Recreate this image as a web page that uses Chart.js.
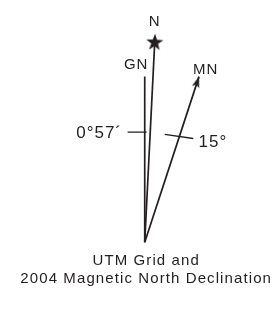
<!DOCTYPE html>
<html>
<head>
<meta charset="utf-8">
<script src="https://cdn.jsdelivr.net/npm/chart.js@4/dist/chart.umd.min.js"></script>
<style>
  html, body { margin: 0; padding: 0; background: #fff; }
  #wrap { width: 279px; height: 317px; }
</style>
</head>
<body>
<div id="wrap"><canvas id="chart" width="279" height="317"></canvas></div>
<script>
// diagram space: x to the right, y downward, same units as the picture
const originX = 145;
const originY = 246;

// the three north lines: grid, true, magnetic
const lineNames = ['GN', 'N', 'MN'];
const lineEndX = [145, 155.5, 202];
const lineEndY = [73, 37, 73];
const lineMarker = ['none', 'star', 'arrow'];

// angle tick marks
const tickStartX = [127, 166];
const tickStartY = [131, 133.3];
const tickEndX = [147, 196];
const tickEndY = [131, 137.6];

// labels
const labelText = ['N', 'GN', 'MN', '0°57´', '15°'];
const labelX = [155.5, 136, 209, 73, 201.5];
const labelY = [20.5, 65, 70, 136.7, 146.7];
const labelAlign = ['center', 'center', 'center', 'left', 'left'];
const labelSize = [15, 15, 15, 17, 17];

const captionLines = ['UTM Grid and', '2004 Magnetic North Declination'];
const captionX = 146.5;
const captionY = [270, 288];

const ink = '#231f20';
const fontFamily = '"Liberation Sans", Arial, Helvetica, sans-serif';

function makeStar() {
    const c = document.createElement('canvas');
    c.width = 20; c.height = 20;
    const g = c.getContext('2d');
    g.fillStyle = ink;
    g.beginPath();
    for (let i = 0; i < 10; i++) {
        const r = i % 2 === 0 ? 9 : 3.6;
        const a = -Math.PI / 2 + i * Math.PI / 5;
        const px = 10 + r * Math.cos(a);
        const py = 10.5 + r * Math.sin(a);
        if (i === 0) g.moveTo(px, py); else g.lineTo(px, py);
    }
    g.closePath();
    g.fill();
    return c;
}

function makeArrow() {
    // tip sits at the canvas centre, head hangs below it
    const c = document.createElement('canvas');
    c.width = 10; c.height = 24;
    const g = c.getContext('2d');
    g.fillStyle = ink;
    g.beginPath();
    g.moveTo(5, 12);
    g.lineTo(8.8, 23);
    g.lineTo(5, 20.5);
    g.lineTo(1.2, 23);
    g.closePath();
    g.fill();
    return c;
}

const starImg = makeStar();
const arrowImg = makeArrow();

const datasets = [];

lineNames.forEach((name, i) => {
    const dx = lineEndX[i] - originX;
    const dy = originY - lineEndY[i];
    const angle = Math.atan2(dx, dy) * 180 / Math.PI;
    let style = 'circle';
    let radius = 0;
    if (lineMarker[i] === 'star') { style = starImg; radius = 5; }
    if (lineMarker[i] === 'arrow') { style = arrowImg; radius = 5; }
    datasets.push({
        label: name,
        data: [{ x: originX, y: originY }, { x: lineEndX[i], y: lineEndY[i] }],
        showLine: true,
        borderColor: ink,
        borderWidth: 1.7,
        pointRadius: [0, radius],
        pointStyle: ['circle', style],
        pointRotation: [0, angle],
        backgroundColor: ink
    });
});

tickStartX.forEach((x, i) => {
    datasets.push({
        label: 'tick' + i,
        data: [{ x: x, y: tickStartY[i] }, { x: tickEndX[i], y: tickEndY[i] }],
        showLine: true,
        borderColor: ink,
        borderWidth: 1.4,
        pointRadius: 0
    });
});

const textPlugin = {
    id: 'diagramText',
    afterDatasetsDraw(chart) {
        const ctx = chart.ctx;
        const sx = chart.scales.x;
        const sy = chart.scales.y;
        ctx.save();
        ctx.fillStyle = ink;
        ctx.textBaseline = 'alphabetic';
        ctx.letterSpacing = '1px';
        labelText.forEach((t, i) => {
            ctx.font = labelSize[i] + 'px ' + fontFamily;
            ctx.textAlign = labelAlign[i];
            ctx.fillText(t, sx.getPixelForValue(labelX[i]), sy.getPixelForValue(labelY[i]));
        });
        ctx.font = '15px ' + fontFamily;
        ctx.letterSpacing = '1.1px';
        ctx.textAlign = 'center';
        captionLines.forEach((t, i) => {
            ctx.fillText(t, sx.getPixelForValue(captionX), sy.getPixelForValue(captionY[i]));
        });
        ctx.restore();
    }
};

new Chart(document.getElementById('chart'), {
    type: 'scatter',
    data: { datasets },
    options: {
        responsive: false,
        animation: false,
        events: [],
        layout: { padding: 0 },
        plugins: {
            legend: { display: false },
            tooltip: { enabled: false },
            title: { display: false }
        },
        scales: {
            x: { type: 'linear', min: 0, max: 279, display: false },
            y: { type: 'linear', min: 0, max: 317, reverse: true, display: false }
        },
        elements: { line: { tension: 0 } }
    },
    plugins: [textPlugin]
});
</script>
</body>
</html>
